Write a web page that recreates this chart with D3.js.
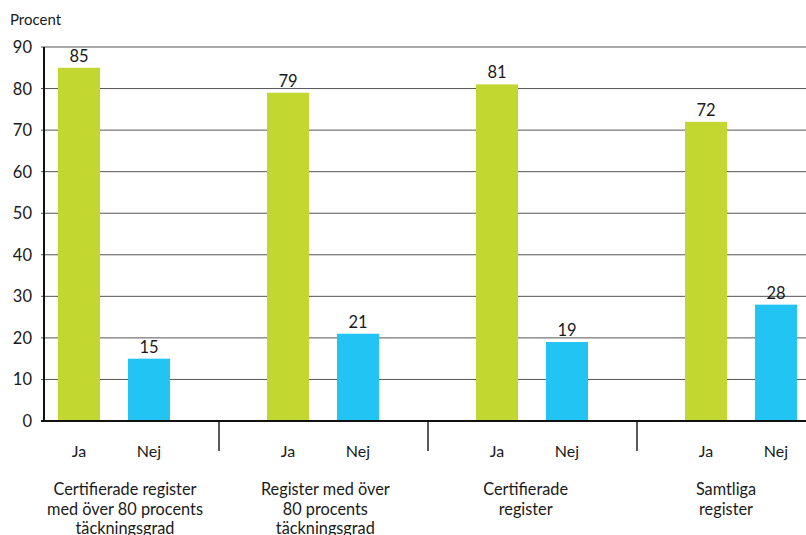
<!DOCTYPE html>
<html>
<head>
<meta charset="utf-8">
<script src="https://cdn.jsdelivr.net/npm/d3@7"></script>
<style>
  html, body { margin: 0; padding: 0; background: #fff; }
  svg { display: block; font-family: "Lato", "Noto Sans", sans-serif; }
</style>
</head>
<body>
<svg id="chart" width="806" height="535"></svg>
<script>
// Andel register (procent) per kategori, uppdelat på Ja / Nej
const groups = ["g1", "g2", "g3", "g4"];
const groupLabels = [
  ["Certifierade register", "med över 80 procents", "täckningsgrad"],
  ["Register med över", "80 procents", "täckningsgrad"],
  ["Certifierade", "register"],
  ["Samtliga", "register"]
];
const answers = ["Ja", "Nej"];
const jaValues  = [85, 79, 81, 72];
const nejValues = [15, 21, 19, 28];
const yTicks = [0, 10, 20, 30, 40, 50, 60, 70, 80, 90];
const colors = { Ja: "#c2d72f", Nej: "#21c4f3" };

const svg = d3.select("#chart");
const W = 806;
const plotLeft = 44, plotTop = 47, plotBottom = 421;

const y = d3.scaleLinear().domain([0, 90]).range([plotBottom, plotTop]);
const x0 = d3.scaleBand().domain(groups).range([11, 847]).padding(0);
const x1 = d3.scaleBand().domain(answers).range([33, 173]).paddingInner(0.4).paddingOuter(0.2);
const labelX = d3.scalePoint().domain(groups).range([125, 726]);

// grid lines
svg.append("g")
  .selectAll("line")
  .data(yTicks.filter(d => d > 0))
  .join("line")
  .attr("x1", plotLeft - 3).attr("x2", W)
  .attr("y1", d => y(d)).attr("y2", d => y(d))
  .attr("stroke", "#555").attr("stroke-width", 1);

// y tick labels
svg.append("g")
  .selectAll("text")
  .data(yTicks)
  .join("text")
  .attr("x", 32).attr("y", d => y(d) + 6)
  .attr("text-anchor", "end")
  .attr("font-size", 16.5).attr("fill", "#1a1a1a")
  .text(d => d);

svg.append("text")
  .attr("x", 10).attr("y", 25)
  .attr("font-size", 15).attr("fill", "#1a1a1a")
  .text("Procent");

// bars
const rows = groups.map((g, i) => ({ g, vals: [
  { key: "Ja", v: jaValues[i] }, { key: "Nej", v: nejValues[i] }
]}));

const gG = svg.append("g").selectAll("g")
  .data(rows).join("g")
  .attr("transform", d => `translate(${x0(d.g)},0)`);

gG.selectAll("rect")
  .data(d => d.vals).join("rect")
  .attr("x", d => x1(d.key))
  .attr("width", x1.bandwidth())
  .attr("y", d => y(d.v))
  .attr("height", d => y(0) - y(d.v))
  .attr("fill", d => colors[d.key]);

gG.selectAll("text.val")
  .data(d => d.vals).join("text")
  .attr("class", "val")
  .attr("x", d => x1(d.key) + x1.bandwidth() / 2)
  .attr("y", d => y(d.v) - 6)
  .attr("text-anchor", "middle")
  .attr("font-size", 16.5).attr("fill", "#1a1a1a")
  .text(d => d.v);

gG.selectAll("text.ans")
  .data(d => d.vals).join("text")
  .attr("class", "ans")
  .attr("x", d => x1(d.key) + x1.bandwidth() / 2)
  .attr("y", 457)
  .attr("text-anchor", "middle")
  .attr("font-size", 16).attr("fill", "#1a1a1a")
  .text(d => d.key);

// group separators
svg.append("g").selectAll("line")
  .data(groups.slice(1)).join("line")
  .attr("x1", d => x0(d) - 1).attr("x2", d => x0(d) - 1)
  .attr("y1", plotBottom).attr("y2", 451)
  .attr("stroke", "#222").attr("stroke-width", 1.5);

// axes
svg.append("line")
  .attr("x1", plotLeft).attr("x2", plotLeft).attr("y1", plotTop).attr("y2", plotBottom + 1)
  .attr("stroke", "#111").attr("stroke-width", 2);
svg.append("line")
  .attr("x1", plotLeft - 3).attr("x2", W).attr("y1", plotBottom).attr("y2", plotBottom)
  .attr("stroke", "#111").attr("stroke-width", 2);

// group labels
svg.append("g").selectAll("text")
  .data(groups).join("text")
  .attr("x", d => labelX(d))
  .attr("y", 495)
  .attr("text-anchor", "middle")
  .attr("font-size", 16.3).attr("fill", "#1a1a1a")
  .each(function(d, i) {
    d3.select(this).selectAll("tspan")
      .data(groupLabels[i]).join("tspan")
      .attr("x", labelX(d))
      .attr("dy", (t, j) => j === 0 ? 0 : 19.5)
      .text(t => t);
  });
</script>
</body>
</html>
